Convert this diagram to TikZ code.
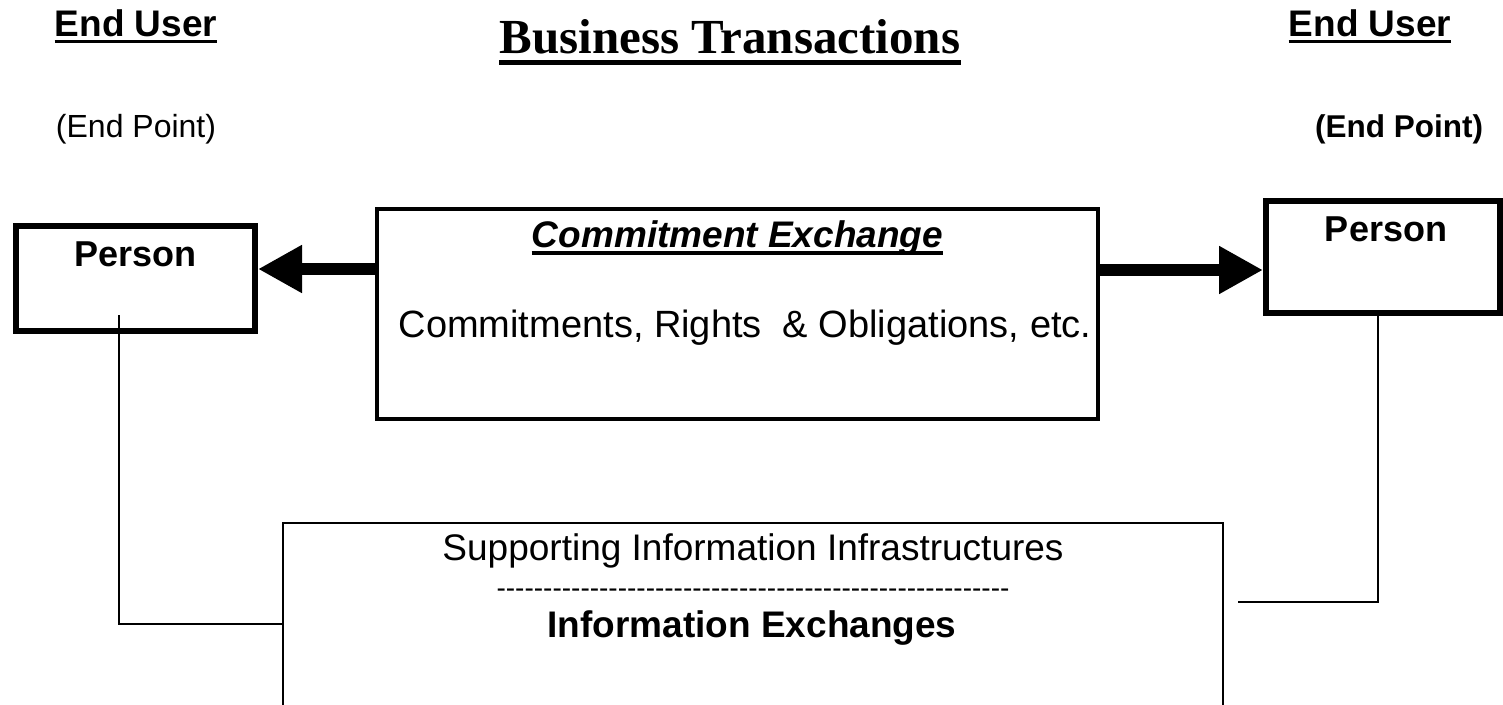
\documentclass[tikz,border=0pt]{standalone}
\usepackage{fontspec}
\setmainfont{Liberation Sans}
\newfontfamily\titlefont{Liberation Serif}
\usetikzlibrary{arrows.meta}
\newcommand\fs[1]{\fontsize{#1}{#1}\selectfont}
\begin{document}
\begin{tikzpicture}[x=1pt,y=-1pt,
  box/.style={draw,rectangle,inner sep=0pt},
  lbl/.style={inner sep=0pt,anchor=base},
  conn/.style={line width=1.8pt},
  uline/.style={line width=3.5pt},
  bigarrow/.style={line width=12pt,-{Triangle[length=44pt,width=45pt]}}]
\useasboundingbox (0,0) rectangle (1503,704);
\clip (0,0) rectangle (1503,704);
% boxes
\node[box,line width=6pt,minimum width=239pt,minimum height=105pt] (lp) at (135.5,278.5) {};
\node[box,line width=6pt,minimum width=234pt,minimum height=112pt] (rp) at (1383,257) {};
\node[box,line width=3.5pt,minimum width=721pt,minimum height=210pt] (ce) at (737.5,314) {};
\node[box,line width=2pt,minimum width=940pt,minimum height=200pt] (ie) at (753,623) {};
% headings
\node[lbl,font=\bfseries\fs{37}] (eu1) at (136,36) {End User};
\draw[uline] ([yshift=-5.5pt]eu1.base west) -- ([yshift=-5.5pt]eu1.base east);
\node[lbl,font=\bfseries\fs{37}] (eu2) at (1370,36) {End User};
\draw[uline] ([yshift=-5.5pt]eu2.base west) -- ([yshift=-5.5pt]eu2.base east);
\node[lbl,font=\titlefont\bfseries\fs{49}] (bt) at (730,53) {Business Transactions};
\draw[line width=5pt] ([yshift=-9pt]bt.base west) -- ([yshift=-9pt]bt.base east);
\node[lbl,font=\fs{32}] (ep1) at (136,137) {(End Point)};
\node[lbl,font=\bfseries\fs{31.5}] (ep2) at (1399,137) {(End Point)};
% box texts
\node[lbl,font=\bfseries\fs{36}] (p1) at (135.5,266) {Person};
\node[lbl,font=\bfseries\fs{36}] (p2) at (1386,241) {Person};
\node[lbl,font=\bfseries\itshape\fs{37}] (cx) at (737.5,247) {Commitment Exchange};
\draw[uline] ([yshift=-6pt]cx.base west) -- ([yshift=-6pt]cx.base east);
\node[lbl,font=\fs{38}] (cr) at (745,337) {Commitments, Rights\ \ \& Obligations, etc.};
\node[lbl,font=\fs{37}] (si) at (753,560) {Supporting Information Infrastructures};
\node[lbl,font=\fs{28}] (dl) at (753,597) {\foreach \i in {1,...,55}{-}};
\node[lbl,font=\bfseries\fs{37}] (ix) at (752,637) {Information Exchanges};
% arrows
\coordinate (la) at (0,269);
\coordinate (ra) at (0,270);
\draw[bigarrow] (ce.west |- la) -- (lp.east |- la);
\draw[bigarrow] (ce.east |- ra) -- (rp.west |- ra);
% connectors
\coordinate (lc) at (119,315);
\coordinate (ly) at (0,624);
\draw[conn] (lc) |- (ie.west |- ly);
\coordinate (rc) at (1378,0);
\coordinate (rend) at (1238,602);
\draw[conn] (rp.south -| rc) |- (rend);
\end{tikzpicture}
\end{document}
